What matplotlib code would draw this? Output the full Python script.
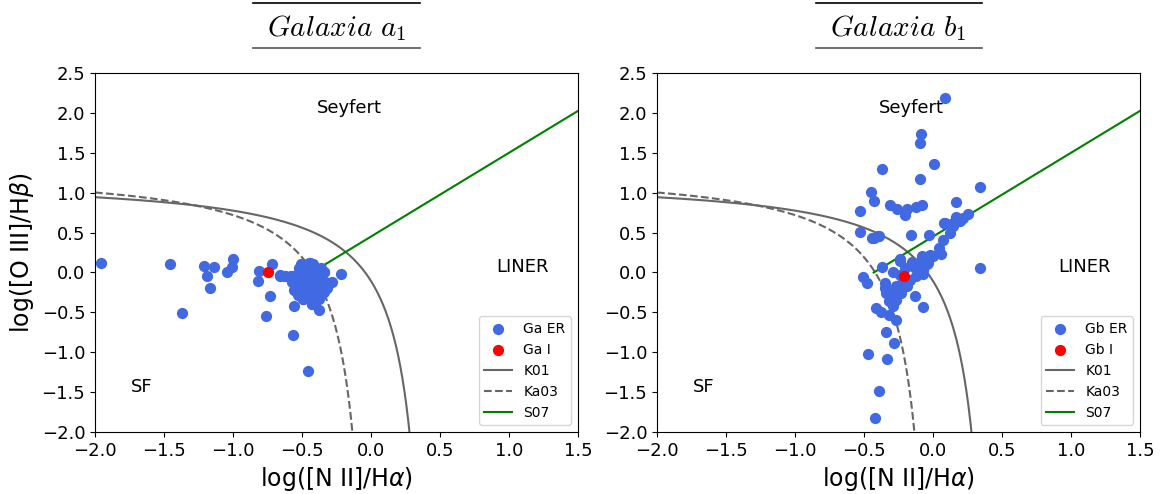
import numpy as np
import matplotlib
matplotlib.use("Agg")
import matplotlib.pyplot as plt
from matplotlib.lines import Line2D

# ---------------- data ----------------
ga_er_x = [-1.96, -1.46, -1.37, -1.21, -1.14, -1.19, -1.17, -1.00, -1.01, -1.04,
           -0.82, -0.81, -0.72, -0.73, -0.76, -0.555, -0.565, -0.46, -0.22, -0.28,
           -0.38, -0.42, -0.66, -0.56, -0.66, -0.62, -0.58,
           -0.62, -0.59, -0.56, -0.55, -0.53, -0.52, -0.50, -0.48, -0.46, -0.45,
           -0.44, -0.43, -0.41, -0.40, -0.38, -0.37, -0.36, -0.35, -0.34, -0.33,
           -0.32, -0.50, -0.48, -0.46, -0.44, -0.42, -0.40, -0.38, -0.36, -0.52,
           -0.50, -0.48, -0.46, -0.44, -0.42, -0.40, -0.43, -0.49, -0.55, -0.54,
           -0.57, -0.47, -0.45, -0.39, -0.41, -0.53, -0.48, -0.42, -0.36, -0.34,
           -0.51, -0.44, -0.34, -0.49, -0.43, -0.38, -0.34, -0.32]
ga_er_y = [0.12, 0.10, -0.51, 0.08, 0.07, -0.04, -0.19, 0.17, 0.07, 0.00,
           -0.11, 0.02, 0.11, -0.29, -0.55, -0.42, -0.79, -1.23, -0.02, -0.12,
           -0.47, -0.38, -0.05, -0.22, -0.03, -0.05, -0.05,
           -0.04, -0.06, -0.04, -0.10, -0.02, 0.05, 0.10, 0.02, -0.05, 0.12,
           0.06, -0.02, 0.04, -0.08, 0.00, -0.10, -0.04, -0.16, 0.01, -0.12,
           -0.20, -0.10, -0.15, -0.20, -0.12, -0.18, -0.22, -0.26, -0.28, -0.18,
           -0.24, -0.28, -0.32, -0.30, -0.36, -0.33, -0.39, -0.33, -0.22, -0.15,
           -0.12, -0.08, -0.25, -0.14, -0.28, -0.28, 0.07, 0.10, 0.05, -0.22,
           0.11, 0.12, 0.01, -0.33, -0.39, -0.33, -0.24, -0.13]
ga_i_x = [-0.75]
ga_i_y = [0.0]

gb_er_x = [0.09, -0.087, -0.097, 0.005, -0.367, -0.097, -0.45, -0.43, -0.53, -0.31,
           -0.26, -0.19, -0.20, -0.12, -0.08, 0.167, 0.34, -0.527, -0.44, -0.39,
           -0.16, -0.03, 0.08, 0.17, 0.256, 0.215, 0.147, 0.12, 0.075, 0.04,
           0.058, 0.0, -0.034, -0.08, -0.075, 0.34, -0.372, -0.51, -0.48, -0.35,
           -0.29, -0.24, -0.14, -0.13, -0.075, -0.41, -0.38, -0.32, -0.27, -0.34,
           -0.28, -0.47, -0.33, -0.39, -0.42, -0.34, -0.30, -0.27, -0.23, -0.19,
           -0.17, -0.215, -0.27, -0.32, -0.29, -0.12, -0.07, -0.046, -0.09, -0.35,
           -0.29, -0.20, -0.155, -0.02, -0.24, 0.087, 0.147, 0.196, -0.24, -0.43,
           -0.40]
gb_er_y = [2.19, 1.735, 1.62, 1.36, 1.30, 1.17, 1.01, 0.89, 0.77, 0.84,
           0.80, 0.79, 0.72, 0.82, 0.84, 0.88, 1.07, 0.51, 0.43, 0.46,
           0.47, 0.465, 0.62, 0.70, 0.73, 0.68, 0.62, 0.49, 0.41, 0.31,
           0.23, 0.20, 0.12, 0.20, -0.02, 0.05, 0.07, -0.06, -0.13, -0.13,
           0.01, 0.14, 0.07, -0.30, -0.43, -0.445, -0.50, -0.53, -0.60, -0.745,
           -0.88, -1.02, -1.08, -1.49, -1.83, -0.26, -0.22, -0.17, -0.26, -0.17,
           -0.09, -0.09, -0.34, -0.36, -0.42, -0.05, 0.03, 0.10, 0.14, -0.19,
           -0.31, 0.06, 0.13, 0.22, -0.03, 0.62, 0.58, 0.64, 0.17, 0.43,
           0.46]
gb_i_x = [-0.21]
gb_i_y = [-0.04]

panels = [
    dict(title=r'$Galaxia\ a_1$', er_x=ga_er_x, er_y=ga_er_y, i_x=ga_i_x, i_y=ga_i_y,
         er_label='Ga ER', i_label='Ga I'),
    dict(title=r'$Galaxia\ b_1$', er_x=gb_er_x, er_y=gb_er_y, i_x=gb_i_x, i_y=gb_i_y,
         er_label='Gb ER', i_label='Gb I'),
]

# ---------------- figure ----------------
plt.rcParams['mathtext.fontset'] = 'dejavusans'
W, H = 1167, 494
fig = plt.figure(figsize=(W / 100, H / 100), dpi=100)

ax_w = 483 / W
ax_h = 359 / H
ax_b = 62 / H
lefts = [95 / W, 657 / W]

gray = '#666666'
for left, p in zip(lefts, panels):
    ax = fig.add_axes([left, ax_b, ax_w, ax_h])
    ax.scatter(p['er_x'], p['er_y'], s=50, color='royalblue', label=p['er_label'], zorder=3)
    ax.scatter(p['i_x'], p['i_y'], s=50, color='red', label=p['i_label'], zorder=4)

    xk = np.linspace(-2.0, 0.465, 500)
    ax.plot(xk, 0.61 / (xk - 0.47) + 1.19, color=gray, lw=1.5, label='K01')
    xka = np.linspace(-2.0, 0.045, 500)
    ax.plot(xka, 0.61 / (xka - 0.05) + 1.3, color=gray, lw=1.5, ls='--', label='Ka03')
    xs = np.linspace(-0.43, 1.5, 50)
    ax.plot(xs, 1.05 * xs + 0.45, color='green', lw=1.5, label='S07')

    ax.set_xlim(-2.0, 1.5)
    ax.set_ylim(-2.0, 2.5)
    ax.tick_params(labelsize=13)
    ax.set_xlabel(r'log([N II]/H$\alpha$)', fontsize=17)
    if left < 0.3:
        ax.set_ylabel(r'log([O III]/H$\beta$)', fontsize=17)

    ax.text(-0.39, 2.0, 'Seyfert', fontsize=13)
    ax.text(0.91, 0.0, 'LINER', fontsize=13)
    ax.text(-1.74, -1.5, 'SF', fontsize=13)

    ax.legend(loc='lower right', fontsize=10)

    # title with rules above and below
    cx = left + ax_w / 2
    fig.text(cx, 1 - 28 / H, p['title'], ha='center', va='center', fontsize=21,
             math_fontfamily='cm')
    half = 83 / W
    fig.add_artist(Line2D([cx - half, cx + half], [1 - 3 / H, 1 - 3 / H],
                          color='black', lw=1.2, transform=fig.transFigure))
    fig.add_artist(Line2D([cx - half, cx + half], [1 - 48 / H, 1 - 48 / H],
                          color='#555555', lw=1.2, transform=fig.transFigure))

fig.savefig('out.png', dpi=100)
